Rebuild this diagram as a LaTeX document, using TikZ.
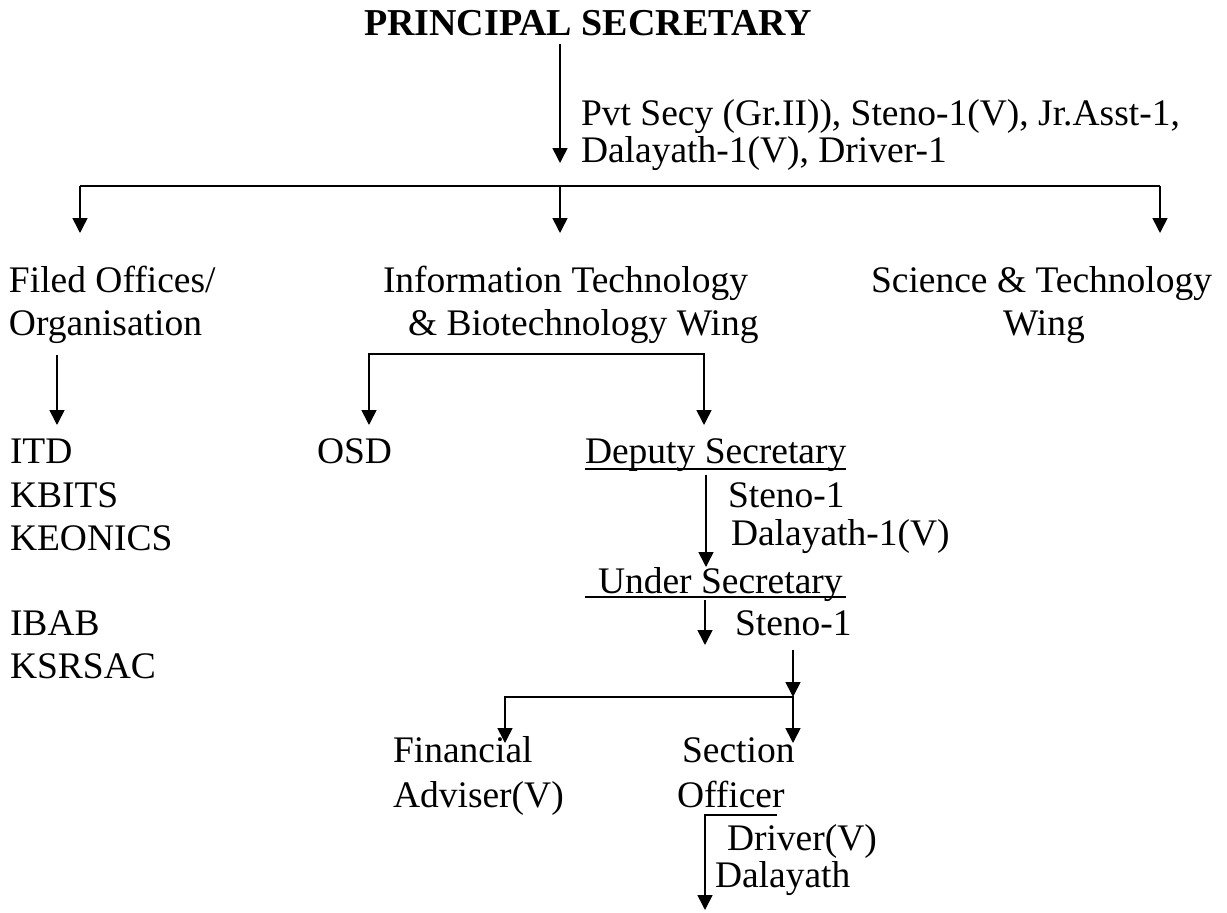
\documentclass[tikz,border=0pt]{standalone}
\usepackage{fontspec}
\setmainfont{Liberation Serif}
\usetikzlibrary{arrows.meta}
\tikzset{
  txt/.style={anchor=base west, inner sep=0pt, outer sep=0pt, font=\fontsize{37.5}{43}\selectfont},
  ttl/.style={anchor=base west, inner sep=0pt, outer sep=0pt, font=\fontsize{38}{43}\selectfont\bfseries},
  conn/.style={line width=1.6pt},
  arr/.style={line width=1.6pt, -{Triangle[width=15pt,length=15pt]}},
  arr2/.style={line width=1.6pt, {Triangle[width=15pt,length=15pt]}-{Triangle[width=15pt,length=15pt]}},
  uline/.style={line width=1.4pt}
}
\begin{document}
\begin{tikzpicture}[x=1pt,y=-1pt]
\useasboundingbox (0,0) rectangle (1227,913);
% texts
\node[ttl] (ps) at (364,35) {PRINCIPAL SECRETARY};
\node[txt] (pvt1) at (581,125) {Pvt Secy (Gr.II)), Steno-1(V), Jr.Asst-1,};
\node[txt] (pvt2) at (581,162) {Dalayath-1(V), Driver-1};
\node[txt] (fo1) at (9,292) {Filed Offices/};
\node[txt] (fo2) at (9,335) {Organisation};
\node[txt] (it1) at (383,292) {Information Technology};
\node[txt] (it2) at (408,335) {\& Biotechnology Wing};
\node[txt] (st1) at (871,292) {Science \& Technology};
\node[txt] (st2) at (1003,335) {Wing};
\node[txt] (itd) at (10,463) {ITD};
\node[txt] (kbits) at (10,507) {KBITS};
\node[txt] (keon) at (10,550) {KEONICS};
\node[txt] (ibab) at (10,635) {IBAB};
\node[txt] (ksr) at (10,678) {KSRSAC};
\node[txt] (osd) at (317,463) {OSD};
\node[txt] (dep) at (585,463) {Deputy Secretary};
\node[txt] (ds1) at (728,507) {Steno-1};
\node[txt] (ds2) at (731,545) {Dalayath-1(V)};
\node[txt] (us) at (598,593) {Under Secretary};
\node[txt] (us1) at (735,635) {Steno-1};
\node[txt] (fa1) at (393,762) {Financial};
\node[txt] (fa2) at (393,807) {Adviser(V)};
\node[txt] (so1) at (682,762) {Section};
\node[txt] (so2) at (677,807) {Officer};
\node[txt] (so3) at (727,850) {Driver(V)};
\node[txt] (so4) at (715,887) {Dalayath};
% underlines
\draw[uline] ([yshift=-6pt]dep.base west) -- ([yshift=-6pt]dep.base east);
\draw[uline] ([xshift=-13pt,yshift=-4pt]us.base west) -- ([xshift=3pt,yshift=-4pt]us.base east);
% coordinates
\coordinate (a0s) at (560,44);
\coordinate (a0e) at (560,163);
\coordinate (barL) at (80,186);
\coordinate (barM) at (560,186);
\coordinate (barR) at (1160,186);
\coordinate (tipL) at (80,233);
\coordinate (tipM) at (560,233);
\coordinate (tipR) at (1160,233);
\coordinate (fos) at (57,355);
\coordinate (foe) at (57,425);
\coordinate (osdtip) at (369,425);
\coordinate (depj) at (704,354);
\coordinate (deptip) at (704,425);
\coordinate (ds) at (706,475);
\coordinate (de) at (706,567);
\coordinate (uss) at (705,600);
\coordinate (use) at (705,645);
\coordinate (b2s) at (793,650);
\coordinate (b2j) at (793,697);
\coordinate (fatip) at (505,743);
\coordinate (sotip) at (793,743);
\coordinate (sor) at (777,815);
\coordinate (soj) at (705,815);
\coordinate (sotip2) at (705,910);
% connectors
\draw[arr] (a0s) -- (a0e);
\draw[conn] (barL) -- (barR);
\draw[arr] (barL) -- (tipL);
\draw[arr] (barM) -- (tipM);
\draw[arr] (barR) -- (tipR);
\draw[arr] (fos) -- (foe);
\draw[arr2] (osdtip) |- (depj) -- (deptip);
\draw[arr] (ds) -- (de);
\draw[arr] (uss) -- (use);
\draw[arr] (b2s) -- (b2j);
\draw[arr2] (fatip) |- (b2j) -- (sotip);
\draw[arr] (sor) -- (soj) -- (sotip2);
\end{tikzpicture}
\end{document}
